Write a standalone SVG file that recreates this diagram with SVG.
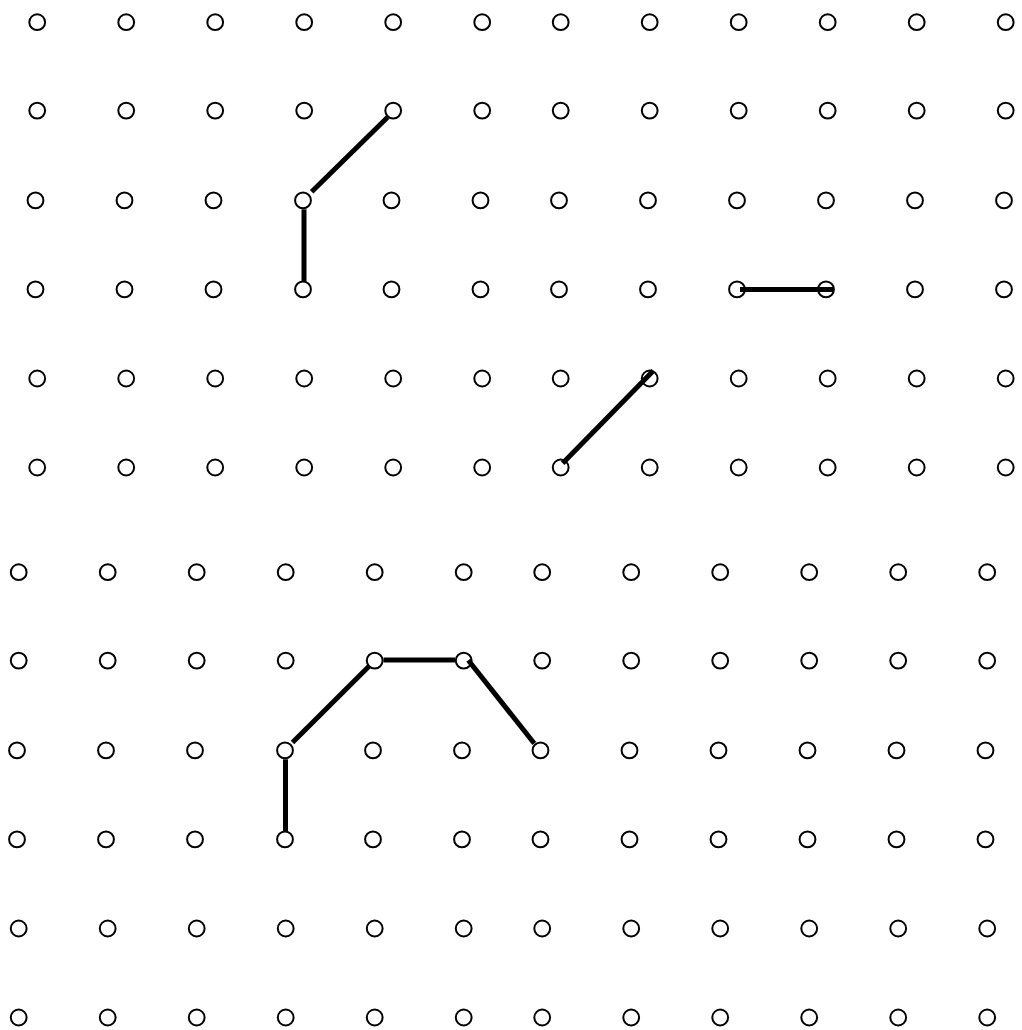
<svg xmlns="http://www.w3.org/2000/svg" width="1022" height="1030" viewBox="0 0 1022 1030">
<style>
.n{fill:#fff;stroke:#000;stroke-width:2}
.e{stroke:#000;stroke-width:5;fill:none;stroke-linecap:butt}
</style>
<rect width="1022" height="1030" fill="#fff"/>
<g id="nodes">
<g id="t1-1"><circle class="n" cx="37.2" cy="22.2" r="7.9"/></g>
<g id="t1-2"><circle class="n" cx="126.2" cy="22.2" r="7.9"/></g>
<g id="t1-3"><circle class="n" cx="215.2" cy="22.2" r="7.9"/></g>
<g id="t1-4"><circle class="n" cx="304.2" cy="22.2" r="7.9"/></g>
<g id="t1-5"><circle class="n" cx="393.2" cy="22.2" r="7.9"/></g>
<g id="t1-6"><circle class="n" cx="482.2" cy="22.2" r="7.9"/></g>
<g id="t1-7"><circle class="n" cx="560.7" cy="22.2" r="7.9"/></g>
<g id="t1-8"><circle class="n" cx="649.7" cy="22.2" r="7.9"/></g>
<g id="t1-9"><circle class="n" cx="738.7" cy="22.2" r="7.9"/></g>
<g id="t1-10"><circle class="n" cx="827.7" cy="22.2" r="7.9"/></g>
<g id="t1-11"><circle class="n" cx="916.7" cy="22.2" r="7.9"/></g>
<g id="t1-12"><circle class="n" cx="1005.7" cy="22.2" r="7.9"/></g>
<g id="t2-1"><circle class="n" cx="37.2" cy="110.6" r="7.9"/></g>
<g id="t2-2"><circle class="n" cx="126.2" cy="110.6" r="7.9"/></g>
<g id="t2-3"><circle class="n" cx="215.2" cy="110.6" r="7.9"/></g>
<g id="t2-4"><circle class="n" cx="304.2" cy="110.6" r="7.9"/></g>
<g id="t2-5"><circle class="n" cx="393.2" cy="110.6" r="7.9"/></g>
<g id="t2-6"><circle class="n" cx="482.2" cy="110.6" r="7.9"/></g>
<g id="t2-7"><circle class="n" cx="560.7" cy="110.6" r="7.9"/></g>
<g id="t2-8"><circle class="n" cx="649.7" cy="110.6" r="7.9"/></g>
<g id="t2-9"><circle class="n" cx="738.7" cy="110.6" r="7.9"/></g>
<g id="t2-10"><circle class="n" cx="827.7" cy="110.6" r="7.9"/></g>
<g id="t2-11"><circle class="n" cx="916.7" cy="110.6" r="7.9"/></g>
<g id="t2-12"><circle class="n" cx="1005.7" cy="110.6" r="7.9"/></g>
<g id="t3-1"><circle class="n" cx="35.5" cy="200.4" r="7.9"/></g>
<g id="t3-2"><circle class="n" cx="124.5" cy="200.4" r="7.9"/></g>
<g id="t3-3"><circle class="n" cx="213.5" cy="200.4" r="7.9"/></g>
<g id="t3-4"><circle class="n" cx="303" cy="200.4" r="7.9"/></g>
<g id="t3-5"><circle class="n" cx="391.5" cy="200.4" r="7.9"/></g>
<g id="t3-6"><circle class="n" cx="480.5" cy="200.4" r="7.9"/></g>
<g id="t3-7"><circle class="n" cx="559" cy="200.4" r="7.9"/></g>
<g id="t3-8"><circle class="n" cx="648" cy="200.4" r="7.9"/></g>
<g id="t3-9"><circle class="n" cx="737" cy="200.4" r="7.9"/></g>
<g id="t3-10"><circle class="n" cx="826" cy="200.4" r="7.9"/></g>
<g id="t3-11"><circle class="n" cx="915" cy="200.4" r="7.9"/></g>
<g id="t3-12"><circle class="n" cx="1004" cy="200.4" r="7.9"/></g>
<g id="t4-1"><circle class="n" cx="35.5" cy="289.4" r="7.9"/></g>
<g id="t4-2"><circle class="n" cx="124.5" cy="289.4" r="7.9"/></g>
<g id="t4-3"><circle class="n" cx="213.5" cy="289.4" r="7.9"/></g>
<g id="t4-4"><circle class="n" cx="303" cy="289.4" r="7.9"/></g>
<g id="t4-5"><circle class="n" cx="391.5" cy="289.4" r="7.9"/></g>
<g id="t4-6"><circle class="n" cx="480.5" cy="289.4" r="7.9"/></g>
<g id="t4-7"><circle class="n" cx="559" cy="289.4" r="7.9"/></g>
<g id="t4-8"><circle class="n" cx="648" cy="289.4" r="7.9"/></g>
<g id="t4-9"><circle class="n" cx="737" cy="289.4" r="7.9"/></g>
<g id="t4-10"><circle class="n" cx="826" cy="289.4" r="7.9"/></g>
<g id="t4-11"><circle class="n" cx="915" cy="289.4" r="7.9"/></g>
<g id="t4-12"><circle class="n" cx="1004" cy="289.4" r="7.9"/></g>
<g id="t5-1"><circle class="n" cx="37.2" cy="378.5" r="7.9"/></g>
<g id="t5-2"><circle class="n" cx="126.2" cy="378.5" r="7.9"/></g>
<g id="t5-3"><circle class="n" cx="215.2" cy="378.5" r="7.9"/></g>
<g id="t5-4"><circle class="n" cx="304.2" cy="378.5" r="7.9"/></g>
<g id="t5-5"><circle class="n" cx="393.2" cy="378.5" r="7.9"/></g>
<g id="t5-6"><circle class="n" cx="482.2" cy="378.5" r="7.9"/></g>
<g id="t5-7"><circle class="n" cx="560.7" cy="378.5" r="7.9"/></g>
<g id="t5-8"><circle class="n" cx="649.7" cy="378.5" r="7.9"/></g>
<g id="t5-9"><circle class="n" cx="738.7" cy="378.5" r="7.9"/></g>
<g id="t5-10"><circle class="n" cx="827.7" cy="378.5" r="7.9"/></g>
<g id="t5-11"><circle class="n" cx="916.7" cy="378.5" r="7.9"/></g>
<g id="t5-12"><circle class="n" cx="1005.7" cy="378.5" r="7.9"/></g>
<g id="t6-1"><circle class="n" cx="37.2" cy="467.5" r="7.9"/></g>
<g id="t6-2"><circle class="n" cx="126.2" cy="467.5" r="7.9"/></g>
<g id="t6-3"><circle class="n" cx="215.2" cy="467.5" r="7.9"/></g>
<g id="t6-4"><circle class="n" cx="304.2" cy="467.5" r="7.9"/></g>
<g id="t6-5"><circle class="n" cx="393.2" cy="467.5" r="7.9"/></g>
<g id="t6-6"><circle class="n" cx="482.2" cy="467.5" r="7.9"/></g>
<g id="t6-7"><circle class="n" cx="560.7" cy="467.5" r="7.9"/></g>
<g id="t6-8"><circle class="n" cx="649.7" cy="467.5" r="7.9"/></g>
<g id="t6-9"><circle class="n" cx="738.7" cy="467.5" r="7.9"/></g>
<g id="t6-10"><circle class="n" cx="827.7" cy="467.5" r="7.9"/></g>
<g id="t6-11"><circle class="n" cx="916.7" cy="467.5" r="7.9"/></g>
<g id="t6-12"><circle class="n" cx="1005.7" cy="467.5" r="7.9"/></g>
<g id="b1-1"><circle class="n" cx="18.7" cy="572.2" r="7.9"/></g>
<g id="b1-2"><circle class="n" cx="107.7" cy="572.2" r="7.9"/></g>
<g id="b1-3"><circle class="n" cx="196.7" cy="572.2" r="7.9"/></g>
<g id="b1-4"><circle class="n" cx="285.7" cy="572.2" r="7.9"/></g>
<g id="b1-5"><circle class="n" cx="374.7" cy="572.2" r="7.9"/></g>
<g id="b1-6"><circle class="n" cx="463.7" cy="572.2" r="7.9"/></g>
<g id="b1-7"><circle class="n" cx="542.2" cy="572.2" r="7.9"/></g>
<g id="b1-8"><circle class="n" cx="631.2" cy="572.2" r="7.9"/></g>
<g id="b1-9"><circle class="n" cx="720.2" cy="572.2" r="7.9"/></g>
<g id="b1-10"><circle class="n" cx="809.2" cy="572.2" r="7.9"/></g>
<g id="b1-11"><circle class="n" cx="898.2" cy="572.2" r="7.9"/></g>
<g id="b1-12"><circle class="n" cx="987.2" cy="572.2" r="7.9"/></g>
<g id="b2-1"><circle class="n" cx="18.7" cy="660.6" r="7.9"/></g>
<g id="b2-2"><circle class="n" cx="107.7" cy="660.6" r="7.9"/></g>
<g id="b2-3"><circle class="n" cx="196.7" cy="660.6" r="7.9"/></g>
<g id="b2-4"><circle class="n" cx="285.7" cy="660.6" r="7.9"/></g>
<g id="b2-5"><circle class="n" cx="374.7" cy="660.6" r="7.9"/></g>
<g id="b2-6"><circle class="n" cx="463.7" cy="660.6" r="7.9"/></g>
<g id="b2-7"><circle class="n" cx="542.2" cy="660.6" r="7.9"/></g>
<g id="b2-8"><circle class="n" cx="631.2" cy="660.6" r="7.9"/></g>
<g id="b2-9"><circle class="n" cx="720.2" cy="660.6" r="7.9"/></g>
<g id="b2-10"><circle class="n" cx="809.2" cy="660.6" r="7.9"/></g>
<g id="b2-11"><circle class="n" cx="898.2" cy="660.6" r="7.9"/></g>
<g id="b2-12"><circle class="n" cx="987.2" cy="660.6" r="7.9"/></g>
<g id="b3-1"><circle class="n" cx="17" cy="750.4" r="7.9"/></g>
<g id="b3-2"><circle class="n" cx="106" cy="750.4" r="7.9"/></g>
<g id="b3-3"><circle class="n" cx="195" cy="750.4" r="7.9"/></g>
<g id="b3-4"><circle class="n" cx="285" cy="750.4" r="7.9"/></g>
<g id="b3-5"><circle class="n" cx="373" cy="750.4" r="7.9"/></g>
<g id="b3-6"><circle class="n" cx="462" cy="750.4" r="7.9"/></g>
<g id="b3-7"><circle class="n" cx="540.5" cy="750.4" r="7.9"/></g>
<g id="b3-8"><circle class="n" cx="629.5" cy="750.4" r="7.9"/></g>
<g id="b3-9"><circle class="n" cx="718.5" cy="750.4" r="7.9"/></g>
<g id="b3-10"><circle class="n" cx="807.5" cy="750.4" r="7.9"/></g>
<g id="b3-11"><circle class="n" cx="896.5" cy="750.4" r="7.9"/></g>
<g id="b3-12"><circle class="n" cx="985.5" cy="750.4" r="7.9"/></g>
<g id="b4-1"><circle class="n" cx="17" cy="839.4" r="7.9"/></g>
<g id="b4-2"><circle class="n" cx="106" cy="839.4" r="7.9"/></g>
<g id="b4-3"><circle class="n" cx="195" cy="839.4" r="7.9"/></g>
<g id="b4-4"><circle class="n" cx="285" cy="839.4" r="7.9"/></g>
<g id="b4-5"><circle class="n" cx="373" cy="839.4" r="7.9"/></g>
<g id="b4-6"><circle class="n" cx="462" cy="839.4" r="7.9"/></g>
<g id="b4-7"><circle class="n" cx="540.5" cy="839.4" r="7.9"/></g>
<g id="b4-8"><circle class="n" cx="629.5" cy="839.4" r="7.9"/></g>
<g id="b4-9"><circle class="n" cx="718.5" cy="839.4" r="7.9"/></g>
<g id="b4-10"><circle class="n" cx="807.5" cy="839.4" r="7.9"/></g>
<g id="b4-11"><circle class="n" cx="896.5" cy="839.4" r="7.9"/></g>
<g id="b4-12"><circle class="n" cx="985.5" cy="839.4" r="7.9"/></g>
<g id="b5-1"><circle class="n" cx="18.7" cy="928.5" r="7.9"/></g>
<g id="b5-2"><circle class="n" cx="107.7" cy="928.5" r="7.9"/></g>
<g id="b5-3"><circle class="n" cx="196.7" cy="928.5" r="7.9"/></g>
<g id="b5-4"><circle class="n" cx="285.7" cy="928.5" r="7.9"/></g>
<g id="b5-5"><circle class="n" cx="374.7" cy="928.5" r="7.9"/></g>
<g id="b5-6"><circle class="n" cx="463.7" cy="928.5" r="7.9"/></g>
<g id="b5-7"><circle class="n" cx="542.2" cy="928.5" r="7.9"/></g>
<g id="b5-8"><circle class="n" cx="631.2" cy="928.5" r="7.9"/></g>
<g id="b5-9"><circle class="n" cx="720.2" cy="928.5" r="7.9"/></g>
<g id="b5-10"><circle class="n" cx="809.2" cy="928.5" r="7.9"/></g>
<g id="b5-11"><circle class="n" cx="898.2" cy="928.5" r="7.9"/></g>
<g id="b5-12"><circle class="n" cx="987.2" cy="928.5" r="7.9"/></g>
<g id="b6-1"><circle class="n" cx="18.7" cy="1017.5" r="7.9"/></g>
<g id="b6-2"><circle class="n" cx="107.7" cy="1017.5" r="7.9"/></g>
<g id="b6-3"><circle class="n" cx="196.7" cy="1017.5" r="7.9"/></g>
<g id="b6-4"><circle class="n" cx="285.7" cy="1017.5" r="7.9"/></g>
<g id="b6-5"><circle class="n" cx="374.7" cy="1017.5" r="7.9"/></g>
<g id="b6-6"><circle class="n" cx="463.7" cy="1017.5" r="7.9"/></g>
<g id="b6-7"><circle class="n" cx="542.2" cy="1017.5" r="7.9"/></g>
<g id="b6-8"><circle class="n" cx="631.2" cy="1017.5" r="7.9"/></g>
<g id="b6-9"><circle class="n" cx="720.2" cy="1017.5" r="7.9"/></g>
<g id="b6-10"><circle class="n" cx="809.2" cy="1017.5" r="7.9"/></g>
<g id="b6-11"><circle class="n" cx="898.2" cy="1017.5" r="7.9"/></g>
<g id="b6-12"><circle class="n" cx="987.2" cy="1017.5" r="7.9"/></g>
</g>
<g id="connectors">
<line class="e" x1="387.6" y1="117.2" x2="311.7" y2="191.7"/>
<line class="e" x1="304" y1="209.3" x2="304" y2="281.5"/>
<line class="e" x1="740" y1="289.6" x2="834" y2="289.6"/>
<line class="e" x1="562.7" y1="463.3" x2="653.3" y2="370.7"/>
<line class="e" x1="285.5" y1="759.3" x2="285.5" y2="831.5"/>
<line class="e" x1="292.5" y1="742.5" x2="369" y2="666.3"/>
<line class="e" x1="383.5" y1="660" x2="455" y2="660"/>
<line class="e" x1="468.3" y1="660.3" x2="534.3" y2="743.5"/>
</g>
</svg>
